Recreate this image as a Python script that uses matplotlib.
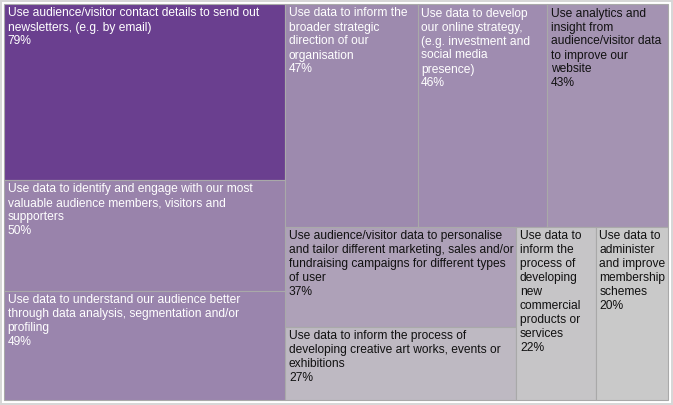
import matplotlib
matplotlib.use("Agg")
import matplotlib.pyplot as plt
from matplotlib.patches import Rectangle
from matplotlib.colors import LinearSegmentedColormap, Normalize, to_rgb
from matplotlib.font_manager import FontProperties

# ---------------- data ----------------
labels = [
    "Use audience/visitor contact details to send out\nnewsletters, (e.g. by email)",
    "Use data to identify and engage with our most\nvaluable audience members, visitors and\nsupporters",
    "Use data to understand our audience better\nthrough data analysis, segmentation and/or\nprofiling",
    "Use data to inform the\nbroader strategic\ndirection of our\norganisation",
    "Use data to develop\nour online strategy,\n(e.g. investment and\nsocial media\npresence)",
    "Use analytics and\ninsight from\naudience/visitor data\nto improve our\nwebsite",
    "Use audience/visitor data to personalise\nand tailor different marketing, sales and/or\nfundraising campaigns for different types\nof user",
    "Use data to inform the process of\ndeveloping creative art works, events or\nexhibitions",
    "Use data to\ninform the\nprocess of\ndeveloping\nnew\ncommercial\nproducts or\nservices",
    "Use data to\nadminister\nand improve\nmembership\nschemes",
]
values = [79, 50, 49, 47, 46, 43, 37, 27, 22, 20]

# ---------------- layout (d3-style squarify, golden ratio) ----------------
W, H = 673, 405
X0, Y0, X1, Y1 = 4.0, 4.0, 668.0, 400.0
PHI = (1 + 5 ** 0.5) / 2


def squarify(vals, x0, y0, x1, y1, ratio=PHI):
    rects = [None] * len(vals)
    n = len(vals)
    value = float(sum(vals))
    i0 = i1 = 0
    while i0 < n:
        dx, dy = x1 - x0, y1 - y0
        sum_v = vals[i1]
        i1 += 1
        min_v = max_v = sum_v
        alpha = max(dy / dx, dx / dy) / (value * ratio)
        beta = sum_v * sum_v * alpha
        min_ratio = max(max_v / beta, beta / min_v)
        while i1 < n:
            nv = vals[i1]
            sum_v += nv
            min_v = min(min_v, nv)
            max_v = max(max_v, nv)
            beta = sum_v * sum_v * alpha
            new_ratio = max(max_v / beta, beta / min_v)
            if new_ratio > min_ratio:
                sum_v -= nv
                break
            min_ratio = new_ratio
            i1 += 1
        idx = list(range(i0, i1))
        if dx < dy:  # dice: row across the top
            ny = y0 + dy * sum_v / value
            cx = x0
            for j in idx:
                w = (x1 - x0) * vals[j] / sum_v
                rects[j] = (cx, y0, w, ny - y0)
                cx += w
            y0 = ny
        else:  # slice: column on the left
            nx = x0 + dx * sum_v / value
            cy = y0
            for j in idx:
                h = (y1 - y0) * vals[j] / sum_v
                rects[j] = (x0, cy, nx - x0, h)
                cy += h
            x0 = nx
        value -= sum_v
        i0 = i1
    return rects


rects = squarify(values, X0, Y0, X1, Y1)

# ---------------- figure ----------------
DPI = 100
fig = plt.figure(figsize=(W / DPI, H / DPI), dpi=DPI)
fig.patch.set_facecolor("white")
ax = fig.add_axes([0, 0, 1, 1])
ax.set_xlim(0, W)
ax.set_ylim(H, 0)
ax.axis("off")

# outer light frame
ax.add_patch(Rectangle((1, 1), W - 2.5, H - 2.5, facecolor="none",
                       edgecolor="#d6d6d6", linewidth=1.4))

cmap = LinearSegmentedColormap.from_list("gp", ["#c9c9c9", "#6a3f8f"])
norm = Normalize(vmin=min(values), vmax=max(values))

FS_PX = 12.0
fp = FontProperties(family=["Liberation Sans", "Arial", "DejaVu Sans"],
                    size=FS_PX * 72 / DPI)

PAD_X = 3.5
BASE0 = 12.5
LINE_H = 14.0

for lab, v, (rx, ry, rw, rh) in zip(labels, values, rects):
    col = cmap(norm(v))
    ax.add_patch(Rectangle((rx, ry), rw, rh, facecolor=col,
                           edgecolor="#a9a9a9", linewidth=0.8))
    r, g, b = to_rgb(col)
    lum = 0.2126 * r + 0.7152 * g + 0.0722 * b
    tcol = "white" if lum < 0.6 else "#111111"
    lines = lab.split("\n") + [f"{v}%"]
    for i, ln in enumerate(lines):
        ax.text(rx + PAD_X, ry + BASE0 + i * LINE_H, ln, fontproperties=fp,
                color=tcol, ha="left", va="baseline")

fig.savefig("out.png", dpi=DPI, facecolor="white")
